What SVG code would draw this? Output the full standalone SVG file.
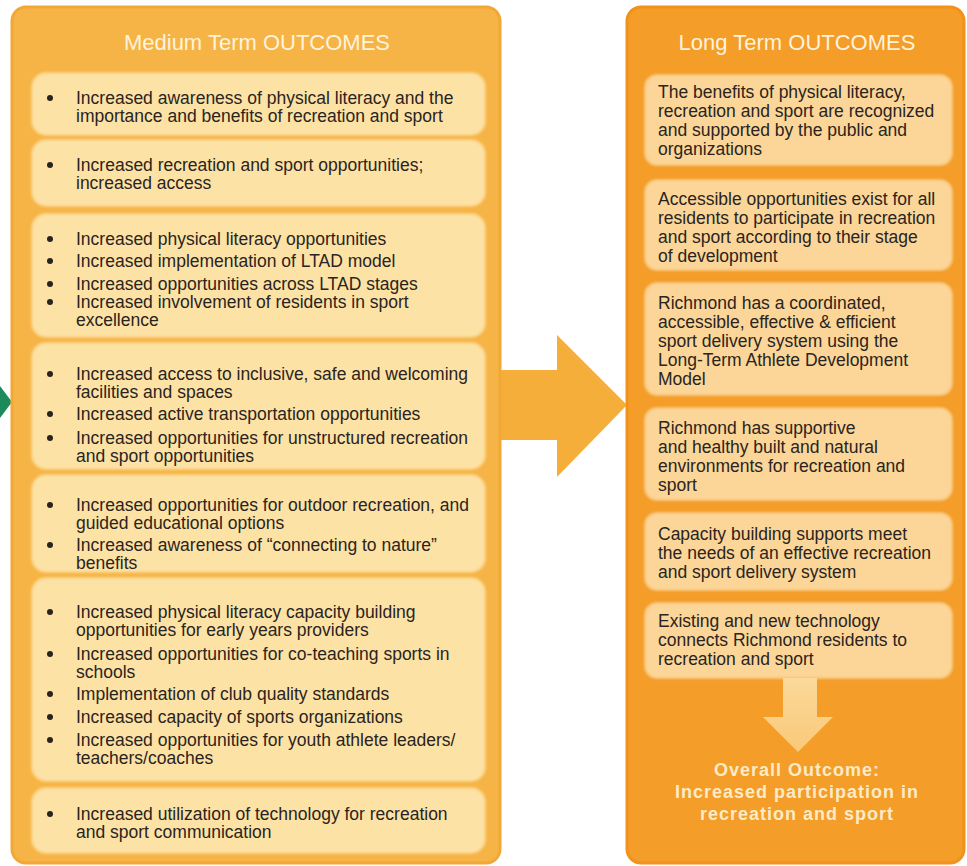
<svg xmlns="http://www.w3.org/2000/svg" width="967" height="866" viewBox="0 0 967 866">
  <defs>
    <filter id="soft" x="-5%" y="-10%" width="110%" height="120%">
      <feGaussianBlur stdDeviation="1.2"/>
    </filter>
    <linearGradient id="downGrad" x1="0" y1="0" x2="0" y2="1">
      <stop offset="0" stop-color="#fbd99a"/>
      <stop offset="1" stop-color="#f9c978"/>
    </linearGradient>
  </defs>
  <style>
    .panelL { fill: #f6b446; stroke: #f2a837; stroke-width: 3; }
    .panelR { fill: #f49d28; stroke: #f0921c; stroke-width: 3; }
    .boxL { fill: #fde2a6; stroke: #fbd384; stroke-width: 2; filter: url(#soft); }
    .boxR { fill: #fbd698; stroke: #f9c67a; stroke-width: 2; filter: url(#soft); }
    .head { font-family: "Liberation Sans", Arial, sans-serif; font-size: 22px; fill: #fff3dc; text-anchor: middle; }
    .t { font-family: "Liberation Sans", Arial, sans-serif; font-size: 17.5px; fill: #2a2420; }
    .dot { fill: #2a2420; }
    .overall { font-family: "Liberation Sans", Arial, sans-serif; font-size: 18px; font-weight: bold; letter-spacing: 1px; fill: #fdebc6; text-anchor: middle; }
  </style>

  <!-- incoming arrow tip at the left edge -->
  <polygon points="0,386 12,402 0,418" fill="#1b8a5c"/>

  <!-- connectors -->
  <g id="connectors">
    <polygon points="495,370 557,370 557,335 627,405 557,477 557,440 495,440" fill="#f6ae3a"/>
  </g>

  <!-- Medium term panel -->
  <g id="medium-term">
    <rect class="panelL" x="12" y="7" width="488" height="856" rx="14"/>
    <text class="head" x="257" y="50">Medium Term OUTCOMES</text>

    <g id="m1">
      <rect class="boxL" x="32" y="73" width="453" height="62" rx="14"/>
      <circle class="dot" cx="50" cy="98" r="3"/>
      <text class="t" x="76" y="104">Increased awareness of physical literacy and the</text>
      <text class="t" x="76" y="122">importance and benefits of recreation and sport</text>
    </g>

    <g id="m2">
      <rect class="boxL" x="32" y="140" width="453" height="66" rx="14"/>
      <circle class="dot" cx="50" cy="165" r="3"/>
      <text class="t" x="76" y="171">Increased recreation and sport opportunities;</text>
      <text class="t" x="76" y="189">increased access</text>
    </g>

    <g id="m3">
      <rect class="boxL" x="32" y="214" width="453" height="123" rx="14"/>
      <circle class="dot" cx="50" cy="239" r="3"/>
      <text class="t" x="76" y="245">Increased physical literacy opportunities</text>
      <circle class="dot" cx="50" cy="261" r="3"/>
      <text class="t" x="76" y="267">Increased implementation of LTAD model</text>
      <circle class="dot" cx="50" cy="284" r="3"/>
      <text class="t" x="76" y="290">Increased opportunities across LTAD stages</text>
      <circle class="dot" cx="50" cy="302" r="3"/>
      <text class="t" x="76" y="308">Increased involvement of residents in sport</text>
      <text class="t" x="76" y="326">excellence</text>
    </g>

    <g id="m4">
      <rect class="boxL" x="32" y="343" width="453" height="126" rx="14"/>
      <circle class="dot" cx="50" cy="374" r="3"/>
      <text class="t" x="76" y="380">Increased access to inclusive, safe and welcoming</text>
      <text class="t" x="76" y="398">facilities and spaces</text>
      <circle class="dot" cx="50" cy="414" r="3"/>
      <text class="t" x="76" y="420">Increased active transportation opportunities</text>
      <circle class="dot" cx="50" cy="438" r="3"/>
      <text class="t" x="76" y="444">Increased opportunities for unstructured recreation</text>
      <text class="t" x="76" y="462">and sport opportunities</text>
    </g>

    <g id="m5">
      <rect class="boxL" x="32" y="475" width="453" height="97" rx="14"/>
      <circle class="dot" cx="50" cy="505" r="3"/>
      <text class="t" x="76" y="511">Increased opportunities for outdoor recreation, and</text>
      <text class="t" x="76" y="529">guided educational options</text>
      <circle class="dot" cx="50" cy="545" r="3"/>
      <text class="t" x="76" y="551">Increased awareness of “connecting to nature”</text>
      <text class="t" x="76" y="569">benefits</text>
    </g>

    <g id="m6">
      <rect class="boxL" x="32" y="578" width="453" height="203" rx="14"/>
      <circle class="dot" cx="50" cy="612" r="3"/>
      <text class="t" x="76" y="618">Increased physical literacy capacity building</text>
      <text class="t" x="76" y="636">opportunities for early years providers</text>
      <circle class="dot" cx="50" cy="654" r="3"/>
      <text class="t" x="76" y="660">Increased opportunities for co-teaching sports in</text>
      <text class="t" x="76" y="678">schools</text>
      <circle class="dot" cx="50" cy="694" r="3"/>
      <text class="t" x="76" y="700">Implementation of club quality standards</text>
      <circle class="dot" cx="50" cy="717" r="3"/>
      <text class="t" x="76" y="723">Increased capacity of sports organizations</text>
      <circle class="dot" cx="50" cy="740" r="3"/>
      <text class="t" x="76" y="746">Increased opportunities for youth athlete leaders/</text>
      <text class="t" x="76" y="764">teachers/coaches</text>
    </g>

    <g id="m7">
      <rect class="boxL" x="32" y="788" width="453" height="65" rx="14"/>
      <circle class="dot" cx="50" cy="814" r="3"/>
      <text class="t" x="76" y="820">Increased utilization of technology for recreation</text>
      <text class="t" x="76" y="838">and sport communication</text>
    </g>
  </g>

  <!-- Long term panel -->
  <g id="long-term">
    <rect class="panelR" x="627" y="7" width="337" height="856" rx="14"/>
    <text class="head" x="797" y="50">Long Term OUTCOMES</text>

    <g id="l1">
      <rect class="boxR" x="645" y="75" width="307" height="90" rx="12"/>
      <text class="t" x="658" y="98">The benefits of physical literacy,</text>
      <text class="t" x="658" y="117">recreation and sport are recognized</text>
      <text class="t" x="658" y="136">and supported by the public and</text>
      <text class="t" x="658" y="155">organizations</text>
    </g>

    <g id="l2">
      <rect class="boxR" x="645" y="180" width="307" height="90" rx="12"/>
      <text class="t" x="658" y="205">Accessible opportunities exist for all</text>
      <text class="t" x="658" y="224">residents to participate in recreation</text>
      <text class="t" x="658" y="243">and sport according to their stage</text>
      <text class="t" x="658" y="262">of development</text>
    </g>

    <g id="l3">
      <rect class="boxR" x="645" y="283" width="307" height="112" rx="12"/>
      <text class="t" x="658" y="309">Richmond has a coordinated,</text>
      <text class="t" x="658" y="328">accessible, effective &amp; efficient</text>
      <text class="t" x="658" y="347">sport delivery system using the</text>
      <text class="t" x="658" y="366">Long-Term Athlete Development</text>
      <text class="t" x="658" y="385">Model</text>
    </g>

    <g id="l4">
      <rect class="boxR" x="645" y="408" width="307" height="92" rx="12"/>
      <text class="t" x="658" y="434">Richmond has supportive</text>
      <text class="t" x="658" y="453">and healthy built and natural</text>
      <text class="t" x="658" y="472">environments for recreation and</text>
      <text class="t" x="658" y="491">sport</text>
    </g>

    <g id="l5">
      <rect class="boxR" x="645" y="513" width="307" height="77" rx="12"/>
      <text class="t" x="658" y="540">Capacity building supports meet</text>
      <text class="t" x="658" y="559">the needs of an effective recreation</text>
      <text class="t" x="658" y="578">and sport delivery system</text>
    </g>

    <g id="l6">
      <rect class="boxR" x="645" y="603" width="307" height="75" rx="12"/>
      <text class="t" x="658" y="627">Existing and new technology</text>
      <text class="t" x="658" y="646">connects Richmond residents to</text>
      <text class="t" x="658" y="665">recreation and sport</text>
    </g>

    <!-- arrow down to the overall outcome -->
    <polygon points="783,678 817,678 817,717 833,717 798,752 763,717 783,717" fill="url(#downGrad)"/>

    <g id="overall">
      <text class="overall" x="797" y="776">Overall Outcome:</text>
      <text class="overall" x="797" y="798">Increased participation in</text>
      <text class="overall" x="797" y="820">recreation and sport</text>
    </g>
  </g>
</svg>
